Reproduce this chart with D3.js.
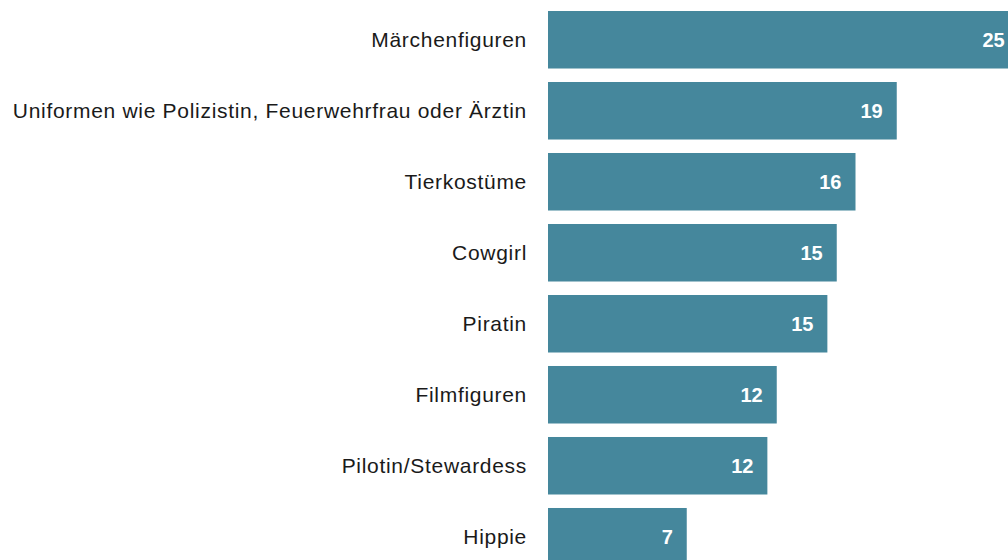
<!DOCTYPE html>
<html>
<head>
<meta charset="utf-8">
<script src="https://cdn.jsdelivr.net/npm/d3@7"></script>
<style>
  html, body { margin: 0; padding: 0; background: #fff; overflow: hidden; }
  svg { display: block; }
  .cat { font-family: "Liberation Sans", Arial, sans-serif; font-size: 21px; letter-spacing: 0.7px; fill: #1a1a1a; }
  .val { font-family: "Liberation Sans", Arial, sans-serif; font-size: 20px; font-weight: bold; fill: #fff; }
</style>
</head>
<body>
<svg id="chart" width="1008" height="560"></svg>
<script>
// categories and values (percent), label shows the rounded value
const categories = [
    "Märchenfiguren",
    "Uniformen wie Polizistin, Feuerwehrfrau oder Ärztin",
    "Tierkostüme",
    "Cowgirl",
    "Piratin",
    "Filmfiguren",
    "Pilotin/Stewardess",
    "Hippie"
];
const values = [25.1, 18.6, 16.4, 15.4, 14.9, 12.2, 11.7, 7.4];

const width = 1008, height = 560;
const barLeft = 548;

const data = categories.map((c, i) => ({ cat: c, value: values[i] }));

// scales
const x = d3.scaleLinear()
    .domain([0, 20])
    .range([barLeft, barLeft + 375]);

const y = d3.scaleBand()
    .domain(categories)
    .range([11, 11 + 71 * 8 - 13.5])
    .paddingInner(0.19)
    .paddingOuter(0);

const svg = d3.select("#chart");

// bars
svg.selectAll(".bar")
    .data(data)
    .join("rect")
    .attr("class", "bar")
    .attr("x", x(0))
    .attr("y", d => y(d.cat))
    .attr("width", d => x(d.value) - x(0))
    .attr("height", y.bandwidth())
    .attr("fill", "#45879c");

// value labels inside bar end
svg.selectAll(".val")
    .data(data)
    .join("text")
    .attr("class", "val")
    .attr("x", d => x(d.value) - 14)
    .attr("y", d => y(d.cat) + y.bandwidth() / 2)
    .attr("dy", "0.36em")
    .attr("text-anchor", "end")
    .text(d => Math.round(d.value));

// category labels
svg.selectAll(".cat")
    .data(data)
    .join("text")
    .attr("class", "cat")
    .attr("x", barLeft - 21)
    .attr("y", d => y(d.cat) + y.bandwidth() / 2)
    .attr("dy", "0.36em")
    .attr("text-anchor", "end")
    .text(d => d.cat);
</script>
</body>
</html>
